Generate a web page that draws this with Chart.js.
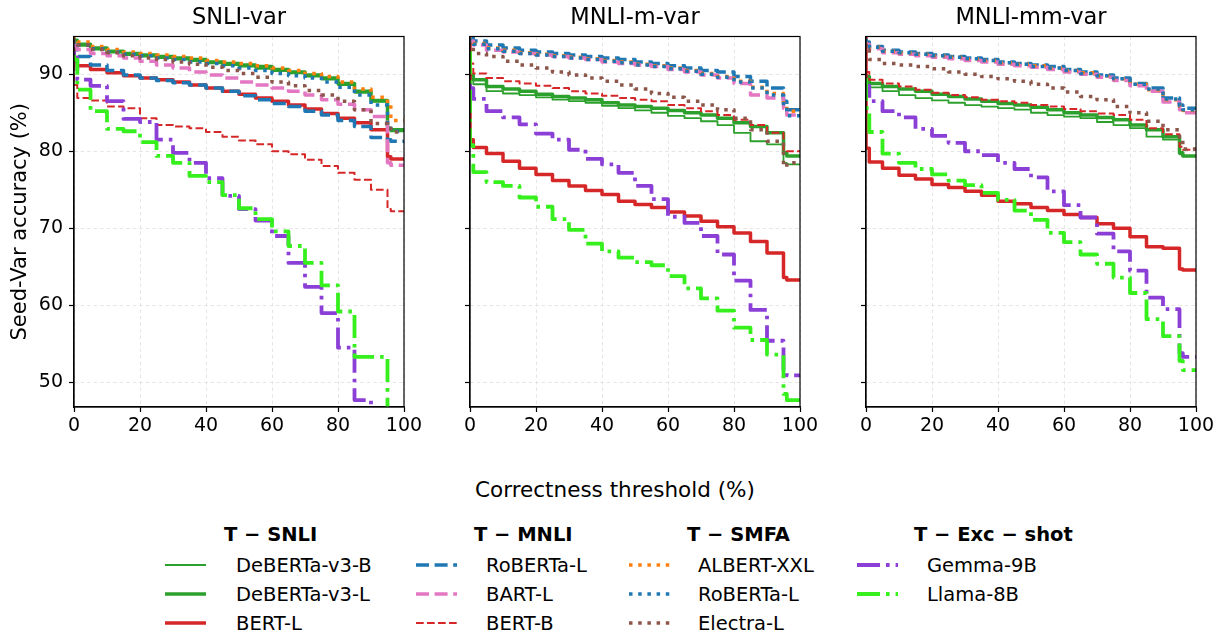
<!DOCTYPE html>
<html>
<head>
<meta charset="utf-8">
<script src="https://cdn.jsdelivr.net/npm/chart.js@4"></script>
<style>
  body { margin: 0; width: 1220px; height: 635px; background: #fff; position: relative; overflow: hidden;
         font-family: 'DejaVu Sans', sans-serif; color: #000; }
  canvas.panel { position: absolute; top: 0; }
  #xlabel { position: absolute; left: 0; width: 1230px; top: 478.5px; text-align: center;
            font-size: 21.5px; line-height: 1; white-space: nowrap; }
  .lg { position: absolute; font-size: 19.5px; line-height: 1; white-space: nowrap; }
  .lg.head { font-weight: bold; }
  svg.sample { position: absolute; overflow: visible; }
</style>
</head>
<body>
<div id="xlabel">Correctness threshold (%)</div>
<script>
// x positions (correctness threshold %), shared by every curve
const thresholds = [0, 1, 5, 10, 15, 20, 25, 30, 35, 40, 45, 50, 55, 60, 65, 70, 75, 80, 85, 90, 95, 96, 100];
const xTicks = [0, 20, 40, 60, 80, 100];
const xTickLabels = ['0', '20', '40', '60', '80', '100'];
const yTicks = [50, 60, 70, 80, 90];
const yTickLabels = ['50', '60', '70', '80', '90'];
const panelTitles = ['SNLI-var', 'MNLI-m-var', 'MNLI-mm-var'];
const seriesNames = ['DeBERTa-v3-B', 'DeBERTa-v3-L', 'BERT-L', 'RoBERTa-L', 'BART-L', 'BERT-B',
  'ALBERT-XXL', 'RoBERTa-L', 'Electra-L', 'Gemma-9B', 'Llama-8B'];
const groupTitles = ['T \u2212 SNLI', 'T \u2212 MNLI', 'T \u2212 SMFA', 'T \u2212 Exc \u2212 shot'];

// SNLI-var
const snliDebertaB = [94.5, 94.2, 93.7, 93.2, 92.8, 92.5, 92.3, 92.1, 91.9, 91.7, 91.4, 91.2, 91.0, 90.7, 90.4, 90.1, 89.7, 89.3, 88.6, 87.6, 86.4, 82.8, 82.6];
const snliDebertaL = [94.7, 94.4, 93.9, 93.4, 93.0, 92.7, 92.5, 92.3, 92.1, 91.9, 91.6, 91.4, 91.2, 91.0, 90.6, 90.3, 89.9, 89.5, 88.8, 87.8, 86.6, 83.0, 82.8];
const snliBertL = [93.8, 91.6, 91.1, 90.6, 90.2, 89.8, 89.5, 89.3, 89.0, 88.6, 88.2, 87.8, 87.4, 86.9, 86.5, 86.0, 85.5, 84.9, 84.3, 83.7, 82.8, 79.3, 79.0];
const snliRobertaM = [94.2, 93.8, 92.3, 91.2, 90.5, 89.9, 89.5, 89.2, 88.9, 88.6, 88.2, 87.8, 87.2, 86.7, 86.2, 85.8, 85.2, 84.7, 84.0, 83.2, 81.8, 81.5, 81.3];
const snliBart = [94.0, 93.7, 93.2, 92.7, 92.4, 92.1, 91.7, 91.2, 90.8, 90.3, 89.9, 89.5, 89.0, 88.6, 88.2, 87.8, 87.3, 86.7, 86.1, 85.4, 84.5, 78.5, 78.2];
const snliBertB = [91.5, 88.6, 86.9, 86.6, 85.8, 85.6, 84.3, 83.4, 83.2, 83.0, 82.5, 81.9, 81.4, 80.9, 80.0, 79.6, 78.9, 78.1, 77.2, 76.3, 75.0, 72.5, 72.2];
const snliAlbert = [95.0, 94.7, 94.2, 93.6, 93.2, 92.9, 92.7, 92.5, 92.3, 92.1, 91.8, 91.6, 91.4, 91.1, 90.8, 90.5, 90.1, 89.7, 89.0, 88.1, 87.0, 86.2, 84.0];
const snliRobertaS = [94.6, 94.3, 93.8, 93.3, 92.9, 92.6, 92.4, 92.1, 91.9, 91.6, 91.4, 91.1, 90.8, 90.5, 90.1, 89.8, 89.5, 89.0, 88.3, 87.3, 86.0, 83.2, 82.6];
const snliElectra = [94.6, 94.3, 93.8, 93.2, 92.8, 92.4, 92.1, 91.9, 91.6, 91.3, 90.9, 90.5, 90.1, 89.6, 89.0, 88.5, 87.9, 87.3, 86.5, 85.4, 83.6, 83.0, 82.5];
const snliGemma = [93.0, 92.2, 89.3, 88.5, 86.5, 84.2, 83.8, 81.5, 79.8, 78.5, 76.5, 74.2, 72.5, 71.0, 69.0, 65.5, 62.4, 59.0, 54.5, 47.7, 45.0, 45.0, 45.0];
const snliLlama = [92.5, 91.9, 88.0, 85.2, 82.9, 82.6, 81.2, 79.4, 78.5, 76.8, 76.0, 74.3, 72.6, 71.2, 69.6, 67.7, 65.5, 62.6, 59.2, 53.3, 53.3, 44.0, 44.0];

// MNLI-m-var
const mDebertaB = [89.6, 89.5, 88.7, 87.8, 87.5, 87.3, 87.0, 86.7, 86.5, 86.3, 85.9, 85.6, 85.3, 85.0, 84.6, 84.3, 83.9, 83.4, 82.4, 81.3, 80.9, 78.5, 78.3];
const mDebertaL = [90.0, 89.9, 89.3, 88.4, 88.1, 87.8, 87.4, 87.1, 86.9, 86.7, 86.3, 86.0, 85.8, 85.6, 85.3, 85.0, 84.7, 84.3, 83.7, 83.2, 82.4, 79.8, 79.4];
const mBertL = [95.0, 81.5, 80.5, 79.7, 78.7, 77.8, 77.0, 76.2, 75.5, 74.9, 74.4, 73.5, 73.1, 72.7, 72.1, 71.6, 70.9, 70.2, 69.4, 68.3, 66.8, 63.6, 63.3];
const mRobertaM = [95.0, 94.7, 94.3, 93.8, 93.4, 93.1, 92.9, 92.7, 92.5, 92.3, 92.1, 91.9, 91.6, 91.4, 91.1, 90.8, 90.5, 90.3, 89.7, 89.1, 88.2, 86.5, 85.4];
const mBart = [94.8, 94.3, 93.8, 93.1, 92.9, 92.7, 92.5, 92.3, 92.1, 91.9, 91.6, 91.4, 91.2, 91.0, 90.6, 90.3, 89.9, 89.5, 88.8, 87.3, 86.9, 85.6, 84.7];
const mBertB = [91.8, 91.4, 90.1, 89.5, 89.1, 88.8, 88.5, 88.2, 87.8, 87.5, 87.2, 86.9, 86.7, 86.5, 86.0, 85.6, 85.2, 84.7, 84.1, 83.4, 82.4, 80.2, 80.0];
const mAlbert = [94.8, 94.5, 94.0, 93.4, 93.1, 92.8, 92.6, 92.4, 92.2, 92.0, 91.8, 91.6, 91.3, 91.1, 90.8, 90.5, 90.1, 89.7, 89.1, 88.3, 87.5, 86.2, 85.2];
const mRobertaS = [94.7, 94.4, 93.9, 93.3, 93.0, 92.7, 92.5, 92.3, 92.1, 91.9, 91.7, 91.5, 91.2, 91.0, 90.7, 90.4, 90.0, 89.6, 89.0, 88.2, 87.3, 85.8, 84.6];
const mElectra = [94.2, 93.6, 92.7, 92.3, 91.7, 91.2, 90.8, 90.3, 89.9, 89.5, 89.1, 88.6, 88.1, 87.5, 87.0, 86.5, 86.0, 85.4, 84.3, 82.8, 81.3, 78.0, 78.5];
const mGemma = [89.0, 88.2, 86.8, 85.2, 84.4, 83.5, 82.3, 81.5, 80.2, 79.0, 78.3, 77.2, 75.5, 73.8, 71.5, 70.7, 69.0, 66.6, 63.2, 59.4, 55.4, 51.5, 50.9];
const mLlama = [93.0, 80.8, 77.3, 76.0, 75.5, 74.0, 72.8, 71.2, 69.8, 68.0, 67.0, 66.2, 65.6, 65.2, 63.8, 62.2, 60.9, 59.3, 57.1, 55.5, 53.6, 48.5, 47.7];

// MNLI-mm-var
const mmDebertaB = [89.6, 89.4, 88.3, 87.8, 87.3, 86.9, 86.6, 86.3, 86.0, 85.8, 85.6, 85.4, 85.0, 84.7, 84.5, 84.3, 83.8, 83.4, 83.0, 81.9, 81.5, 79.6, 79.4];
const mmDebertaL = [90.0, 89.7, 88.8, 88.4, 88.1, 87.8, 87.4, 87.1, 86.8, 86.5, 86.2, 86.0, 85.7, 85.4, 85.0, 84.7, 84.4, 84.1, 83.4, 82.8, 81.9, 79.8, 79.4];
const mmBertL = [95.0, 80.4, 78.6, 77.8, 76.9, 76.4, 75.7, 75.3, 74.8, 74.3, 73.5, 73.2, 72.7, 72.3, 71.8, 71.4, 70.6, 70.0, 68.9, 67.6, 67.4, 64.7, 64.6];
const mmRobertaM = [94.6, 94.2, 93.6, 93.1, 92.9, 92.7, 92.5, 92.3, 92.1, 91.9, 91.6, 91.4, 91.2, 91.0, 90.6, 90.3, 89.9, 89.5, 88.8, 88.2, 86.9, 86.0, 85.6];
const mmBart = [94.3, 93.9, 93.3, 92.8, 92.6, 92.4, 92.2, 92.0, 91.8, 91.6, 91.3, 91.1, 90.9, 90.6, 90.3, 90.0, 89.6, 89.2, 88.5, 87.8, 86.4, 85.4, 85.0];
const mmBertB = [90.5, 90.3, 89.3, 88.8, 88.4, 88.0, 87.6, 87.3, 87.0, 86.7, 86.5, 86.3, 86.0, 85.8, 85.5, 85.2, 84.9, 84.7, 84.1, 83.0, 82.2, 80.6, 80.2];
const mmAlbert = [94.5, 94.1, 93.5, 93.0, 92.8, 92.6, 92.4, 92.2, 92.0, 91.8, 91.5, 91.3, 91.1, 90.8, 90.5, 90.2, 89.8, 89.4, 88.7, 88.0, 86.7, 85.8, 85.3];
const mmRobertaS = [94.6, 94.1, 93.5, 93.0, 92.8, 92.6, 92.4, 92.2, 92.0, 91.8, 91.5, 91.3, 91.0, 90.8, 90.5, 90.1, 89.8, 89.4, 88.7, 88.1, 86.8, 85.9, 85.4];
const mmElectra = [94.0, 93.1, 91.9, 91.4, 91.2, 91.0, 90.7, 90.3, 90.0, 89.7, 89.4, 89.1, 88.7, 88.2, 87.7, 87.1, 86.7, 85.8, 85.0, 83.9, 82.8, 81.5, 80.3];
const mmGemma = [89.5, 88.5, 86.5, 85.2, 84.4, 82.9, 82.0, 81.1, 80.0, 79.5, 78.5, 77.7, 76.6, 74.8, 73.0, 71.4, 69.3, 67.0, 64.5, 61.0, 59.5, 53.8, 53.3];
const mmLlama = [89.5, 85.6, 82.5, 79.7, 78.5, 77.7, 77.0, 76.2, 75.6, 74.6, 73.7, 72.3, 71.1, 69.4, 68.2, 66.6, 65.4, 63.6, 61.6, 58.2, 56.0, 52.8, 51.6];

const panelSeries = [
  [snliDebertaB, snliDebertaL, snliBertL, snliRobertaM, snliBart, snliBertB, snliAlbert, snliRobertaS, snliElectra, snliGemma, snliLlama],
  [mDebertaB, mDebertaL, mBertL, mRobertaM, mBart, mBertB, mAlbert, mRobertaS, mElectra, mGemma, mLlama],
  [mmDebertaB, mmDebertaL, mmBertL, mmRobertaM, mmBart, mmBertB, mmAlbert, mmRobertaS, mmElectra, mmGemma, mmLlama]
];

// line styles, same order as seriesNames
const dashed = [13, 5.6], dotted = [3.5, 5.7], dashDot = [23, 6, 3.6, 6];
const seriesStyle = [
  { color: '#2ca02c', width: 1.8, dash: [] },
  { color: '#2ca02c', width: 3.5, dash: [] },
  { color: '#d62728', width: 3.5, dash: [] },
  { color: '#1f77b4', width: 3.5, dash: dashed },
  { color: '#e377c2', width: 3.5, dash: dashed },
  { color: '#d62728', width: 2, dash: [7.7, 3.3] },
  { color: '#ff7f0e', width: 3.5, dash: dotted },
  { color: '#1f77b4', width: 3.5, dash: dotted },
  { color: '#8c564b', width: 3.5, dash: dotted },
  { color: '#8b3fd6', width: 3.8, dash: dashDot },
  { color: '#36f01e', width: 3.8, dash: dashDot }
];
const legendGroups = [[0, 1, 2], [3, 4, 5], [6, 7, 8], [9, 10]];

// canvas placement of each panel: plot areas sit at x 74-404, 470-800, 866-1196
const panelBoxes = [
  { left: 0, w: 426, yWidth: 74, padRight: 22 },
  { left: 430, w: 392, yWidth: 40, padRight: 22 },
  { left: 826, w: 392, yWidth: 40, padRight: 22 }
];

Chart.defaults.font.family = "'DejaVu Sans', sans-serif";
Chart.defaults.color = '#000';

const frame = {
  id: 'frame',
  afterDatasetsDraw(chart) {
    const a = chart.chartArea, ctx = chart.ctx;
    ctx.save();
    ctx.strokeStyle = '#000';
    ctx.lineWidth = 1.2;
    ctx.strokeRect(a.left, a.top, a.right - a.left, a.bottom - a.top);
    ctx.restore();
  }
};

function makePanel(p) {
  const box = panelBoxes[p];
  const canvas = document.createElement('canvas');
  canvas.className = 'panel';
  canvas.width = box.w;
  canvas.height = 440;
  canvas.style.left = box.left + 'px';
  document.body.appendChild(canvas);

  const datasets = panelSeries[p].map((vals, i) => ({
    label: seriesNames[i],
    data: thresholds.map((t, k) => ({ x: t, y: vals[k] })),
    borderColor: seriesStyle[i].color,
    borderWidth: seriesStyle[i].width,
    borderDash: seriesStyle[i].dash,
    borderCapStyle: 'butt',
    borderJoinStyle: 'round',
    stepped: 'after',
    pointRadius: 0,
    fill: false,
    order: seriesNames.length - i
  }));

  new Chart(canvas, {
    type: 'line',
    data: { datasets: datasets },
    options: {
      responsive: false,
      animation: false,
      layout: { padding: { top: 0, right: box.padRight, bottom: 0, left: 0 } },
      plugins: {
        legend: { display: false },
        tooltip: { enabled: false },
        title: {
          display: true, text: panelTitles[p], fullSize: false, color: '#000',
          font: { size: 22.5, weight: 'normal' }, padding: { top: 5, bottom: 4.5 }
        }
      },
      scales: {
        x: {
          type: 'linear', min: 0, max: 100,
          afterBuildTicks: s => { s.ticks = xTicks.map(v => ({ value: v })); },
          // keep the plot width fixed, let the "100" label hang into the padding
          afterFit: s => { s.height = 33; s.paddingLeft = 0; s.paddingRight = 0; },
          ticks: { font: { size: 19 }, padding: 3, maxRotation: 0, autoSkip: false,
                   callback: (v, i) => xTickLabels[i] },
          grid: { color: '#e2e2e2', lineWidth: 0.9, tickLength: 5, tickColor: '#000', tickWidth: 1.2 },
          border: { color: '#000', width: 1.2, dash: [3.5, 3] }
        },
        y: {
          type: 'linear', min: 46.8, max: 94.9,
          afterBuildTicks: s => { s.ticks = yTicks.map(v => ({ value: v })); },
          afterFit: s => { s.width = box.yWidth; s.paddingTop = 0; s.paddingBottom = 0; },
          ticks: { font: { size: 19 }, padding: 6, autoSkip: false,
                   callback: (v, i) => (p === 0 ? yTickLabels[i] : '') },
          title: { display: p === 0, text: 'Seed-Var accuracy (%)', color: '#000',
                   font: { size: 21 }, padding: { top: 8, bottom: 0 } },
          grid: { color: '#e2e2e2', lineWidth: 0.9, tickLength: 5, tickColor: '#000', tickWidth: 1.2 },
          border: { color: '#000', width: 1.2, dash: [3.5, 3] }
        }
      }
    },
    plugins: [frame]
  });
}

function addText(txt, x, top, cls) {
  const d = document.createElement('div');
  d.className = cls;
  d.textContent = txt;
  d.style.left = x + 'px';
  d.style.top = top + 'px';
  document.body.appendChild(d);
}

function addSample(st, x, y) {
  const ns = 'http://www.w3.org/2000/svg';
  const svg = document.createElementNS(ns, 'svg');
  svg.setAttribute('class', 'sample');
  svg.setAttribute('width', 41);
  svg.setAttribute('height', 10);
  svg.style.left = x + 'px';
  svg.style.top = (y - 5) + 'px';
  const ln = document.createElementNS(ns, 'line');
  ln.setAttribute('x1', 0); ln.setAttribute('x2', 41);
  ln.setAttribute('y1', 5); ln.setAttribute('y2', 5);
  ln.setAttribute('stroke', st.color);
  ln.setAttribute('stroke-width', st.width);
  if (st.dash.length) ln.setAttribute('stroke-dasharray', st.dash.join(' '));
  svg.appendChild(ln);
  document.body.appendChild(svg);
}

function makeLegend() {
  const headX = [224, 474, 687, 914];
  const sampleX = [165, 416, 629, 857];
  const textX = [236, 486, 698, 927];
  const rowBase = [572.5, 601.8, 630.8];
  legendGroups.forEach((g, c) => {
    addText(groupTitles[c], headX[c], 541.7 - 16.5, 'lg head');
    g.forEach((si, r) => {
      addSample(seriesStyle[si], sampleX[c], rowBase[r] - 7.5);
      addText(seriesNames[si], textX[c], rowBase[r] - 16.5, 'lg');
    });
  });
}

for (let p = 0; p < 3; p++) makePanel(p);
makeLegend();
</script>
</body>
</html>
